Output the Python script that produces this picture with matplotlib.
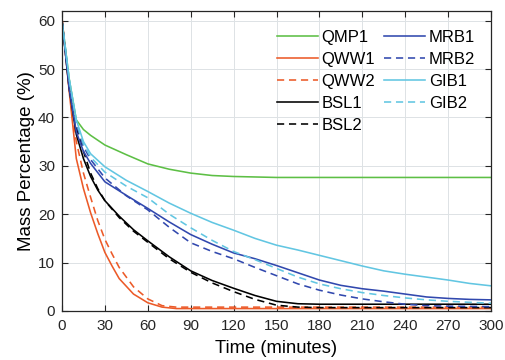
import numpy as np
import matplotlib.pyplot as plt

plt.rcParams['font.family'] = ['Liberation Sans', 'DejaVu Sans']

# time points (minutes) for each series
t_qmp1 = [0, 5, 10, 15, 20, 30, 45, 60, 75, 90, 105, 120, 150, 180, 240, 300]
qmp1 = [60, 48, 39.5, 37.5, 36.3, 34.3, 32.3, 30.4, 29.3, 28.5, 28.0, 27.8, 27.6, 27.6, 27.6, 27.6]

t_qww1 = [0, 5, 10, 15, 20, 25, 30, 35, 40, 50, 60, 70, 80, 120, 180, 240, 300]
qww1 = [60.5, 45.5, 31.5, 25.3, 20.3, 16.0, 12.1, 9.3, 6.7, 3.5, 1.7, 0.8, 0.5, 0.5, 0.5, 0.5, 0.5]

t_qww2 = [0, 5, 10, 15, 20, 25, 30, 35, 40, 50, 60, 70, 80, 120, 180, 240, 300]
qww2 = [60.5, 46, 35, 28.5, 23.5, 18.7, 14.8, 11.8, 9.0, 5.0, 2.5, 1.1, 0.8, 0.8, 0.8, 0.8, 0.8]

t_bsl = [0, 5, 10, 15, 20, 25, 30, 40, 50, 60, 75, 90, 105, 120, 135, 150, 165, 180, 240, 300]
bsl1 = [60, 46, 36.5, 31.5, 27.8, 25.0, 22.8, 19.6, 16.8, 14.5, 11.2, 8.3, 6.3, 4.7, 3.2, 2.0, 1.5, 1.4, 1.4, 1.4]
bsl2 = [60, 47, 38, 33, 28.5, 25.3, 22.8, 19.3, 16.5, 14.2, 10.8, 8.0, 5.8, 4.0, 2.4, 1.2, 0.8, 0.7, 0.7, 0.7]

t_long = [0, 5, 10, 15, 20, 30, 45, 60, 75, 90, 105, 120, 135, 150, 165, 180,
          195, 210, 225, 240, 255, 270, 285, 300]
mrb1 = [60, 46, 37, 33, 30.5, 26.7, 23.9, 21.2, 18.4, 15.8, 13.8, 12.0, 10.8, 9.4,
        7.9, 6.4, 5.3, 4.6, 4.1, 3.5, 2.9, 2.6, 2.4, 2.3]
mrb2 = [60, 47, 38.5, 34, 31.3, 27.5, 23.8, 20.9, 17.3, 14.1, 12.3, 10.8, 9.0, 7.3,
        5.6, 4.3, 3.3, 2.5, 1.9, 1.4, 1.1, 1.0, 0.95, 0.9]
gib1 = [60, 48, 39.5, 35, 32.5, 29.8, 27.0, 24.7, 22.3, 20.2, 18.3, 16.7, 15.0, 13.6,
        12.6, 11.5, 10.4, 9.3, 8.3, 7.6, 7.0, 6.4, 5.7, 5.2]
gib2 = [60, 48, 39, 34.5, 31.8, 28.7, 25.8, 23.4, 20.0, 17.2, 14.6, 12.3, 10.6, 8.8,
        7.0, 5.6, 4.6, 3.8, 3.2, 2.7, 2.3, 2.0, 1.8, 1.6]

green = '#5dbf45'
red = '#ec5a28'
blue = '#3148ae'
cyan = '#62c6e2'
dash = (0, (4.5, 3))

fig = plt.figure(figsize=(5.06, 3.6), dpi=100)
ax = fig.add_axes([62/506, 1-311/360, 429/506, 300/360])

lw = 1.15
ax.plot(t_qmp1, qmp1, color=green, lw=lw, label='QMP1')
ax.plot(t_qww1, qww1, color=red, lw=lw, label='QWW1')
ax.plot(t_qww2, qww2, color=red, lw=lw, ls=dash, label='QWW2')
ax.plot(t_bsl, bsl1, color='black', lw=lw, label='BSL1')
ax.plot(t_bsl, bsl2, color='black', lw=lw, ls=dash, label='BSL2')
ax.plot(t_long, mrb1, color=blue, lw=lw, label='MRB1')
ax.plot(t_long, mrb2, color=blue, lw=lw, ls=dash, label='MRB2')
ax.plot(t_long, gib1, color=cyan, lw=lw, label='GIB1')
ax.plot(t_long, gib2, color=cyan, lw=lw, ls=dash, label='GIB2')

ax.set_xlim(0, 300)
ax.set_ylim(0, 62)
ax.set_xticks(np.arange(0, 301, 30))
ax.set_yticks(np.arange(0, 61, 10))
ax.tick_params(direction='in', top=True, right=True, length=4, labelsize=11,
               colors='#262626', width=0.8)
ax.tick_params(axis='x', pad=6)
ax.tick_params(axis='y', pad=5)
ax.grid(color='#dde2e5', lw=0.7)
ax.set_axisbelow(True)
for s in ax.spines.values():
    s.set_color('#262626')
    s.set_linewidth(0.9)

ax.set_xlabel('Time (minutes)', fontsize=13.2, labelpad=5)
ax.set_ylabel('Mass Percentage (%)', fontsize=13.5, labelpad=2)

ax.legend(ncol=2, loc='upper right', frameon=False, fontsize=12,
          handlelength=2.5, handletextpad=0.2, columnspacing=0.5,
          labelspacing=0.42, borderaxespad=0.3, bbox_to_anchor=(0.99, 0.975))

fig.savefig('out.png', dpi=100)
